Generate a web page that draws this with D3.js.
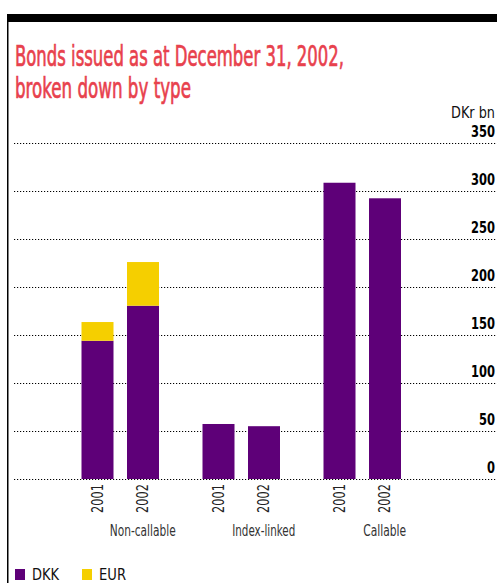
<!DOCTYPE html>
<html><head><meta charset="utf-8">
<script src="https://cdn.jsdelivr.net/npm/d3@7"></script>
<style>
body{margin:0;background:#fff;}
svg{display:block;}
text{font-family:"Liberation Sans Narrow","DejaVu Sans Condensed",sans-serif;}
</style></head>
<body>
<script>
const groups = ["Non-callable", "Index-linked", "Callable"];
const years = ["2001", "2002"];
const dkk = [[144, 180.5], [57.3, 55], [308.6, 292.4]];
const eur = [[19.5, 45.5], [0, 0], [0, 0]];
const yTicks = [0, 50, 100, 150, 200, 250, 300, 350];
const seriesNames = ["DKK", "EUR"];
const colors = ["#5e0078", "#f5cf00"];

const W = 497, H = 583;
const svg = d3.select("body").append("svg").attr("width", W).attr("height", H);

// place text with its start at (x,y), squeezed horizontally to width len, optional rotation
function label(parent, str, x, y, len, opts) {
  const g = parent.append("g");
  const t = g.append("text").attr("font-size", opts.size).attr("fill", opts.fill || "#000")
    .attr("font-weight", opts.weight || "normal").text(str);
  if (opts.stroke) t.attr("stroke", opts.fill).attr("stroke-width", opts.stroke);
  const nat = t.node().getComputedTextLength();
  const sx = len / nat;
  const rot = opts.rotate ? ` rotate(${opts.rotate})` : "";
  g.attr("transform", `translate(${x},${y})${rot} scale(${sx},1)`);
  return g;
}

// frame
svg.append("rect").attr("x", 7).attr("y", 14).attr("width", W - 7).attr("height", 8).attr("fill", "#000");
svg.append("rect").attr("x", 7).attr("y", 14).attr("width", 1.5).attr("height", H - 14).attr("fill", "#000");

// title
const red = "#e8414d";
label(svg, "Bonds issued as at December 31, 2002,", 15, 66, 329, {size: 29, fill: red, stroke: 0.7});
label(svg, "broken down by type", 15, 98, 176, {size: 29, fill: red, stroke: 0.7});

label(svg, "DKr bn", 451, 118, 44, {size: 16, fill: "#111"});

const y = d3.scaleLinear().domain([0, 350]).range([479, 143]);
const x0 = d3.scaleBand().domain(groups).range([59.75, 422.75]);

// gridlines
const grid = svg.append("g");
yTicks.forEach(t => {
  grid.append("line").attr("x1", 14).attr("x2", W).attr("y1", Math.round(y(t)) + 0.5).attr("y2", Math.round(y(t)) + 0.5)
    .attr("stroke", "#000").attr("stroke-width", 1).attr("stroke-dasharray", "1.2,1.8");
  const len = String(t).length * 8;
  label(grid, String(t), 495 - len, y(t) - 6, len, {size: 15, weight: "bold"});
});

// bars
const bw = 32;
const groupLabelLen = [66, 63, 43];
groups.forEach((g, gi) => {
  years.forEach((yr, yi) => {
    const cx = x0(g) + 60.5 + (yi === 0 ? -22.75 : 22.75);
    const d = dkk[gi][yi], e = eur[gi][yi];
    svg.append("rect").attr("x", cx - bw / 2).attr("width", bw).attr("y", y(d)).attr("height", y(0) - y(d)).attr("fill", colors[0]);
    if (e > 0) svg.append("rect").attr("x", cx - bw / 2).attr("width", bw).attr("y", y(d + e)).attr("height", y(d) - y(d + e)).attr("fill", colors[1]);
    label(svg, yr, cx + 5, 513, 29, {size: 15, fill: "#222", rotate: -90});
  });
  const cx = x0(g) + 60.5 + 22.5;
  label(svg, g, cx - groupLabelLen[gi] / 2, 536, groupLabelLen[gi], {size: 15, fill: "#333"});
});

// legend
seriesNames.forEach((s, i) => {
  const lx = 15 + i * 67;
  svg.append("rect").attr("x", lx).attr("y", 569).attr("width", 10).attr("height", 11).attr("fill", colors[i]);
  label(svg, s, lx + 17, 580, 27, {size: 16, fill: "#111"});
});
</script>
</body></html>
